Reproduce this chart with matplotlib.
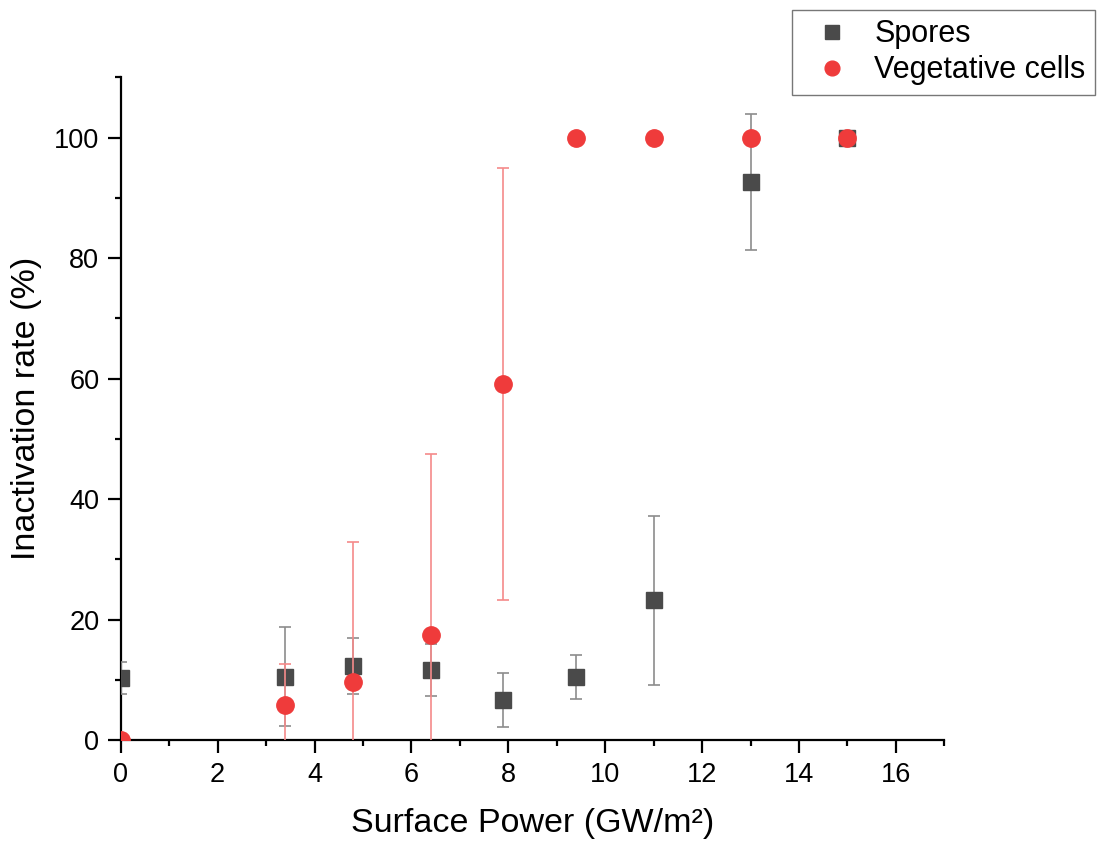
import numpy as np
import matplotlib.pyplot as plt
from matplotlib.ticker import MultipleLocator

plt.rcParams['font.family'] = ['Liberation Sans', 'DejaVu Sans']

power = [0, 3.4, 4.8, 6.4, 7.9, 9.4, 11, 13, 15]
spores = [10.3, 10.5, 12.3, 11.6, 6.6, 10.5, 23.2, 92.7, 100]
spores_err = [2.7, 8.2, 4.7, 4.3, 4.5, 3.6, 14.0, 11.3, 0]
veg = [0, 5.8, 9.6, 17.5, 59.1, 100, 100, 100, 100]
veg_err = [0, 6.9, 23.3, 30.0, 35.8, 0, 0, 0, 0]

fig = plt.figure(figsize=(10.98, 8.41), dpi=100)
ax = fig.add_axes([0.110, 0.120, 0.750, 0.788])

ax.errorbar(power, spores, yerr=spores_err, fmt='s', color='#4a4a4a', ms=11.5,
            ecolor='#8c8c8c', elinewidth=1.2, capsize=4.5, capthick=1.2, label='Spores', zorder=3)
ax.errorbar(power, veg, yerr=veg_err, fmt='o', color='#ef3b3b', ms=12.5,
            ecolor='#f58a8a', elinewidth=1.2, capsize=4.5, capthick=1.2, label='Vegetative cells', zorder=4)

ax.set_xlim(0, 17)
ax.set_ylim(0, 110)
ax.xaxis.set_major_locator(MultipleLocator(2))
ax.xaxis.set_minor_locator(MultipleLocator(1))
ax.yaxis.set_major_locator(MultipleLocator(20))
ax.yaxis.set_minor_locator(MultipleLocator(10))
ax.spines['top'].set_visible(False)
ax.spines['right'].set_visible(False)
for s in ('left', 'bottom'):
    ax.spines[s].set_linewidth(1.6)
ax.tick_params(which='major', direction='out', length=9.5, width=1.6, labelsize=19.5, pad=6)
ax.tick_params(which='minor', direction='out', length=4.5, width=1.6)

ax.set_xlabel('Surface Power (GW/m²)', fontsize=24.5, labelpad=15)
ax.set_ylabel('Inactivation rate (%)', fontsize=24.5, labelpad=9)

handles, labels = ax.get_legend_handles_labels()
handles = [h[0] for h in handles]
leg = fig.legend(handles, labels, loc='upper right', bbox_to_anchor=(0.997, 0.988),
                 borderaxespad=0, fontsize=22, frameon=True, fancybox=False, edgecolor='#555555',
                 handletextpad=0.4, borderpad=0.3, labelspacing=0.2, markerscale=0.85)
leg.get_frame().set_linewidth(1.0)

fig.savefig('out.png', dpi=100)
